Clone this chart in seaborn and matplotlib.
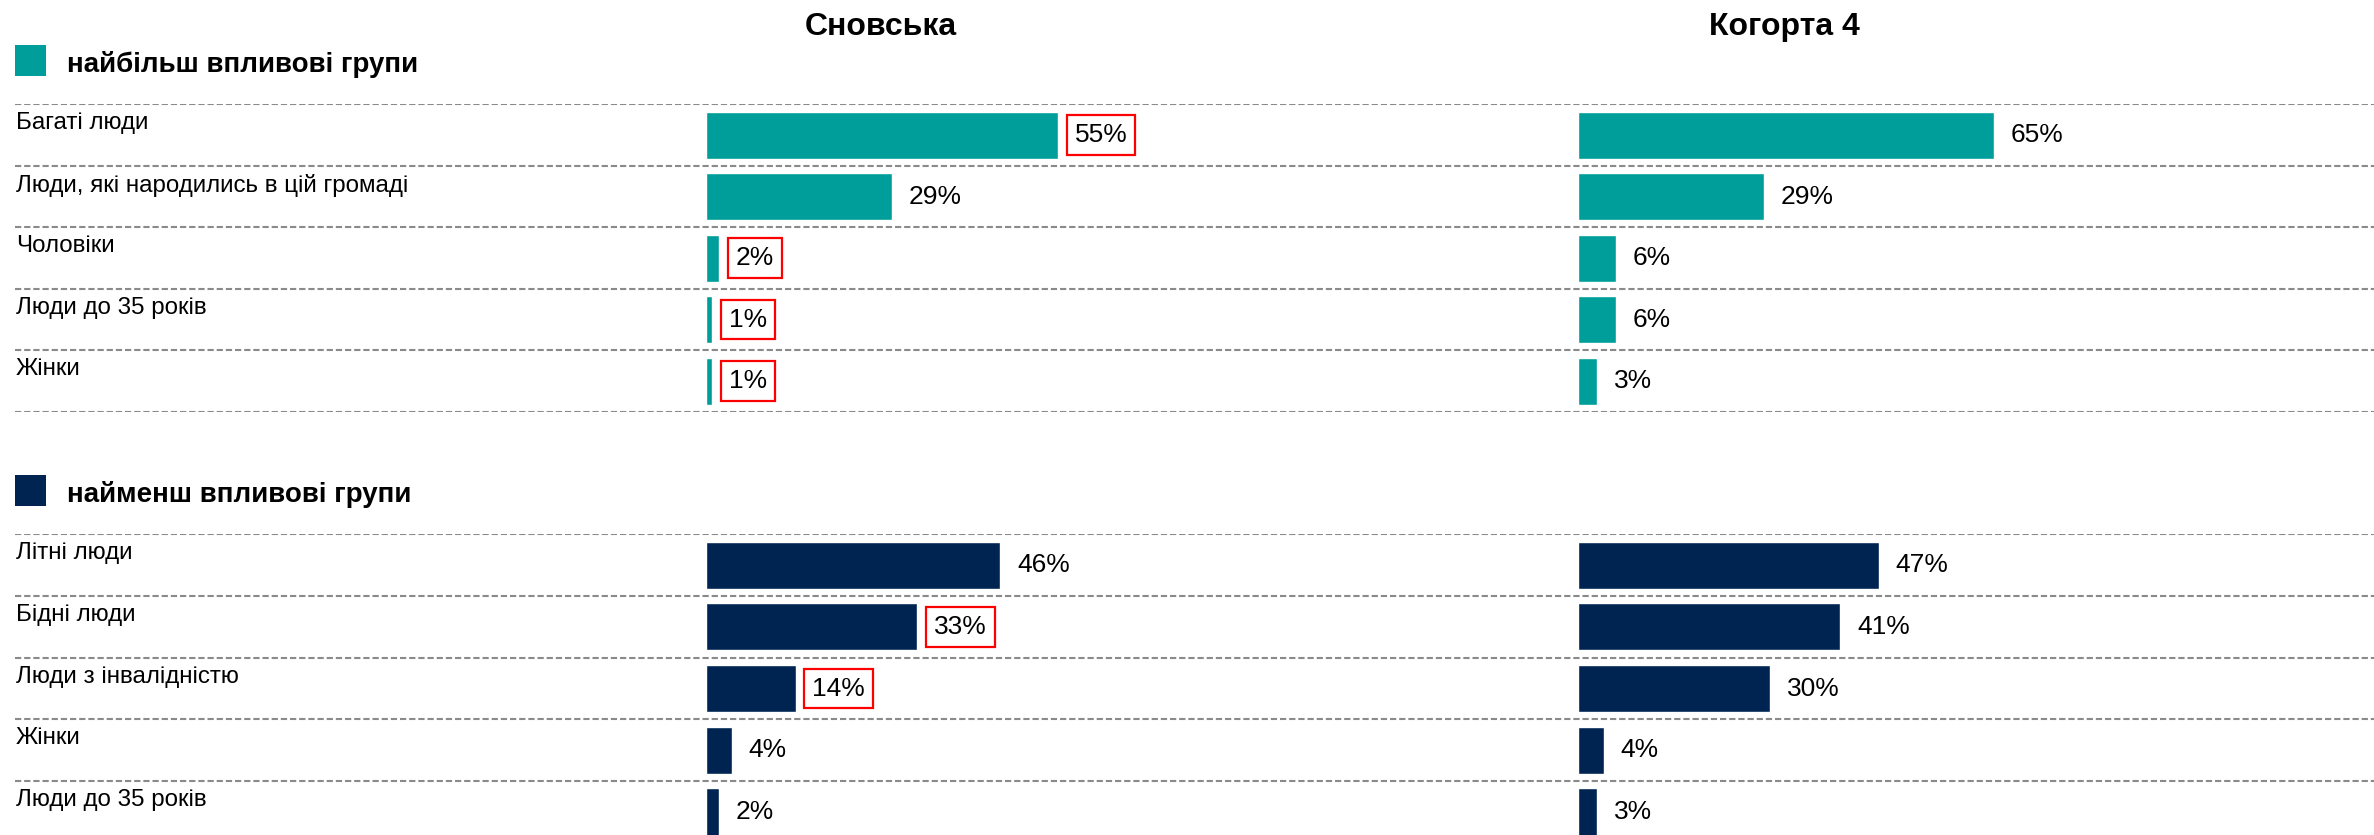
import matplotlib
matplotlib.use("Agg")
import matplotlib.pyplot as plt
from matplotlib.patches import Rectangle
import seaborn as sns
import pandas as pd

# data
top_groups = ["Багаті люди", "Люди, які народились в цій громаді", "Чоловіки",
              "Люди до 35 років", "Жінки"]
top_snovska = [55, 29, 2, 1, 1]
top_kohort = [65, 29, 6, 6, 3]
top_snovska_boxed = [True, False, True, True, True]

bottom_groups = ["Літні люди", "Бідні люди", "Люди з інвалідністю", "Жінки",
                 "Люди до 35 років"]
bottom_snovska = [46, 33, 14, 4, 2]
bottom_kohort = [47, 41, 30, 4, 3]
bottom_snovska_boxed = [False, True, True, False, False]

columns = ["Сновська", "Когорта 4"]
section_titles = ["найбільш впливові групи", "найменш впливові групи"]

TEAL = "#009e9b"
NAVY = "#002452"
W, H = 2374, 835


def fx(px):
    return px / W


def fy(px):
    return 1 - px / H


def draw_section(fig, groups, snovska, kohort, boxed, color, top_px, row_px):
    n = len(groups)
    bottom_px = top_px + n * row_px
    rect_y = fy(bottom_px)
    rect_h = n * row_px / H

    # frame axis with dashed separators and row labels
    frame = fig.add_axes([0, rect_y, 1, rect_h])
    frame.set_xlim(0, 1)
    frame.set_ylim(n - 0.5, -0.5)
    frame.axis("off")
    for k in range(n + 1):
        frame.axhline(k - 0.5, xmin=fx(15), xmax=1, color="#8a8a8a", lw=1.5,
                      dashes=(3, 1.4))
    for i, g in enumerate(groups):
        frame.text(fx(16), i - 0.5 + 8 / row_px, g, fontsize=17.4, va="top",
                   ha="left", color="black")

    # bar panels
    for left_px, vals, flags in [(706, snovska, boxed), (1578, kohort, [False] * n)]:
        ax = fig.add_axes([fx(left_px), rect_y, 640 / W, rect_h])
        df = pd.DataFrame({"group": groups, "value": vals})
        sns.barplot(data=df, x="value", y="group", orient="h", color=color,
                    width=0.765, saturation=1, ax=ax)
        ax.set_xlim(0, 100)
        ax.set_ylim(n - 0.5, -0.5)
        ax.axis("off")
        ax.patch.set_alpha(0)
        for i, (v, b) in enumerate(zip(vals, flags)):
            kw = {}
            if b:
                kw["bbox"] = dict(boxstyle="square,pad=0.3", fc="white",
                                  ec="#ff0000", lw=1.6)
            ax.annotate(f"{v}%", (v, i), xytext=(12, 0), textcoords="offset points",
                        va="center", ha="left", fontsize=19, color="black", **kw)


def main():
    sns.set_theme(style="white")
    plt.rcParams["font.family"] = ["Liberation Sans", "DejaVu Sans"]

    fig = plt.figure(figsize=(W / 100, H / 100), dpi=100)

    # column titles
    fig.text(fx(881), fy(27), columns[0], fontsize=23, fontweight="bold",
             ha="center", va="center", color="black")
    fig.text(fx(1784), fy(27), columns[1], fontsize=23, fontweight="bold",
             ha="center", va="center", color="black")

    # section headers with colour squares
    for (sq_top, color, title) in [(45, TEAL, section_titles[0]),
                                   (475, NAVY, section_titles[1])]:
        fig.add_artist(Rectangle((fx(15), fy(sq_top + 31)), 31 / W, 31 / H,
                                 transform=fig.transFigure, color=color, lw=0))
        fig.text(fx(67), fy(sq_top + 27), title, fontsize=20, fontweight="bold",
                 ha="left", va="baseline", color="black")

    draw_section(fig, top_groups, top_snovska, top_kohort, top_snovska_boxed,
                 TEAL, 104.3, 61.5)
    draw_section(fig, bottom_groups, bottom_snovska, bottom_kohort,
                 bottom_snovska_boxed, NAVY, 534.3, 61.7)

    fig.savefig("out.png", dpi=100, facecolor="white")


if __name__ == "__main__":
    main()
